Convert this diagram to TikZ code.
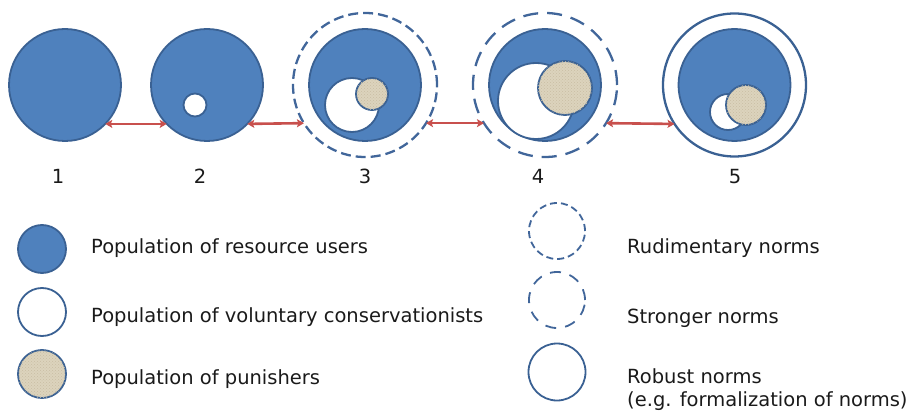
\documentclass[tikz,border=0pt]{standalone}
\usepackage{fontspec}
\setmainfont{DejaVu Sans}
\usetikzlibrary{arrows.meta,patterns}
\definecolor{ublue}{HTML}{4F81BD}
\definecolor{uedge}{HTML}{3A6193}
\definecolor{ringc}{HTML}{41669A}
\definecolor{punfill}{HTML}{DCD3BD}
\definecolor{punhatch}{HTML}{C9BEA3}
\definecolor{arrred}{HTML}{C8504D}
\definecolor{txt}{HTML}{1A1A1A}
\tikzset{
  users/.style={circle, draw=uedge, fill=ublue, line width=1.8pt, inner sep=0pt, outer sep=0pt},
  volunt/.style={circle, draw=uedge, fill=white, line width=1.8pt, inner sep=0pt, outer sep=0pt},
  punish/.style={circle, draw=uedge, fill=punfill, line width=1.8pt, inner sep=0pt, outer sep=0pt,
    postaction={pattern=crosshatch dots, pattern color=punhatch}},
  rudring/.style={circle, draw=ringc, line width=2.3pt, dash pattern=on 10pt off 5pt, inner sep=0pt, outer sep=0pt},
  strring/.style={circle, draw=ringc, line width=2.3pt, dash pattern=on 15pt off 9pt, inner sep=0pt, outer sep=0pt},
  robring/.style={circle, draw=uedge, line width=2.3pt, inner sep=0pt, outer sep=0pt},
  pairarrow/.style={draw=arrred, line width=2.6pt, {Stealth[length=7pt,width=8pt,inset=1.5pt]}-{Stealth[length=7pt,width=8pt,inset=1.5pt]}},
  lbl/.style={anchor=base, text=txt, font=\fontsize{19.5}{23}\selectfont, inner sep=0pt},
  legtxt/.style={anchor=base west, text=txt, font=\fontsize{19.5}{23}\selectfont, inner sep=0pt, align=left}
}
\begin{document}
\begin{tikzpicture}[x=1pt,y=-1pt]
\useasboundingbox (0,0) rectangle (915,414);
% stage 1
\node[users, minimum size=112pt] (u1) at (65,85) {};
% stage 2
\node[users, minimum size=112pt] (u2) at (207,85) {};
\node[volunt, minimum size=23pt] (v2) at (195,105) {};
% stage 3
\node[rudring, minimum size=144pt] (r3) at (365,85) {};
\node[users, minimum size=112pt] (u3) at (365,85) {};
\node[volunt, minimum size=54pt] (v3) at (352,105) {};
\node[punish, minimum size=32pt] (p3) at (372,94) {};
% stage 4
\node[strring, minimum size=144pt] (r4) at (545,85) {};
\node[users, minimum size=112pt] (u4) at (545,85) {};
\node[volunt, minimum size=76pt] (v4) at (536,101) {};
\node[punish, minimum size=54pt] (p4) at (565,88) {};
% stage 5
\node[robring, minimum size=143pt] (r5) at (734.5,85) {};
\node[users, minimum size=112pt] (u5) at (734.5,85) {};
\node[volunt, minimum size=36pt] (v5) at (728,112) {};
\node[punish, minimum size=40pt] (p5) at (746,105) {};
% arrows
\draw[pairarrow] (u1.-44) -- (u2.224);
\draw[pairarrow] (u2.-44) -- (r3.212.8);
\draw[pairarrow] (r3.-32.8) -- (r4.212.8);
\draw[pairarrow] (r4.-32.8) -- (r5.213);
% numbers
\node[lbl] (n1) at (58,183) {1};
\node[lbl] (n2) at (200,183) {2};
\node[lbl] (n3) at (365,183) {3};
\node[lbl] (n4) at (538,183) {4};
\node[lbl] (n5) at (735,183) {5};
% left legend
\node[users, minimum size=48pt] (lu) at (42,249) {};
\node[volunt, minimum size=48pt] (lv) at (42,312) {};
\node[punish, minimum size=48pt] (lp) at (42,374) {};
\node[legtxt] (tu) at (91,253) {Population of resource users};
\node[legtxt] (tv) at (91,322) {Population of voluntary conservationists};
\node[legtxt] (tp) at (91,384) {Population of punishers};
% right legend
\node[rudring, minimum size=56pt, line width=1.8pt, dash pattern=on 7pt off 4pt] (lr) at (557,231) {};
\node[strring, minimum size=56pt, line width=1.8pt, dash pattern=on 11pt off 9pt] (ls) at (557,300) {};
\node[robring, minimum size=57pt, line width=1.8pt] (lb) at (557,372) {};
\node[legtxt] (tr) at (627,253) {Rudimentary norms};
\node[legtxt] (ts) at (627,323) {Stronger norms};
\node[legtxt] (tb) at (627,406) {Robust norms\\(e.g. formalization of norms)};
\end{tikzpicture}
\end{document}
